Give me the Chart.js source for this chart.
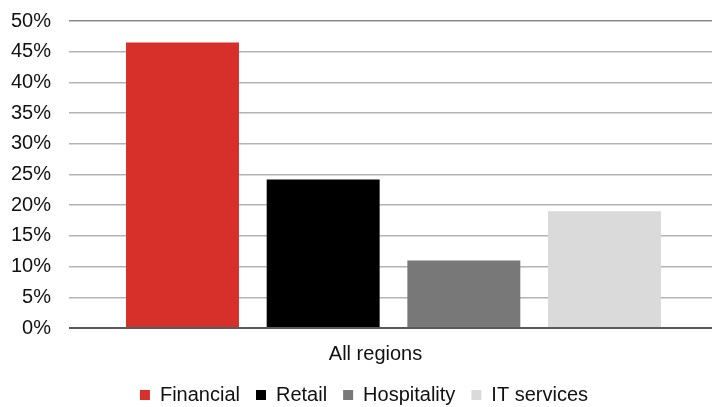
<!DOCTYPE html>
<html>
<head>
<meta charset="utf-8">
<title>Share by sector</title>
<script src="https://cdn.jsdelivr.net/npm/chart.js@4.4.1/dist/chart.umd.min.js"></script>
<style>
  html, body { margin: 0; padding: 0; background: #fff; overflow: hidden; }
  #wrap { width: 718px; height: 415px; }
</style>
</head>
<body>
<div id="wrap"><canvas id="chart"></canvas></div>
<script>
'use strict';

var categories = ['All regions'];
var sectors = ['Financial', 'Retail', 'Hospitality', 'IT services'];
var shares = [46.5, 24.2, 11.0, 19.0];
var colors = ['#d7302a', '#000000', '#777877', '#d9dad9'];
var yTicks = [0, 5, 10, 15, 20, 25, 30, 35, 40, 45, 50];

var font = "'Liberation Sans', Arial, Helvetica, sans-serif";

var datasets = sectors.map(function (name, i) {
  return {
    label: name,
    data: [shares[i]],
    backgroundColor: colors[i],
    borderWidth: 0,
    barPercentage: 0.803,
    categoryPercentage: 0.867
  };
});

new Chart(document.getElementById('chart'), {
  type: 'bar',
  data: { labels: categories, datasets: datasets },
  options: {
    responsive: true,
    maintainAspectRatio: false,
    animation: false,
    layout: { padding: { left: 10, top: 21, right: 0, bottom: 0 } },
    plugins: {
      tooltip: { enabled: false },
      legend: {
        position: 'bottom',
        labels: {
          boxWidth: 10,
          boxHeight: 10,
          padding: 16,
          color: '#111',
          font: { family: font, size: 20 }
        }
      }
    },
    scales: {
      x: {
        grid: { display: false },
        border: { display: false },
        afterFit: function (scale) { scale.height -= 3; },
        ticks: {
          color: '#111',
          padding: 6,
          labelOffset: -18,
          font: { family: font, size: 20 }
        }
      },
      y: {
        min: 0,
        max: 50,
        afterBuildTicks: function (scale) {
          scale.ticks = yTicks.map(function (v) { return { value: v }; });
        },
        afterFit: function (scale) {
          scale.width = 59;
          scale.paddingTop = 0;
          scale.paddingBottom = 0;
        },
        border: { display: false },
        grid: {
          drawTicks: false,
          lineWidth: function (ctx) { return ctx.index === 0 ? 2 : 1.5; },
          color: function (ctx) {
            if (ctx.index === 0) return '#5a5a5a';
            if (ctx.index === yTicks.length - 1) return '#8a8a8a';
            return '#b4b4b4';
          }
        },
        ticks: {
          autoSkip: false,
          color: '#111',
          padding: 18,
          font: { family: font, size: 20 },
          callback: function (v) { return v + '%'; }
        }
      }
    }
  }
});
</script>
</body>
</html>
